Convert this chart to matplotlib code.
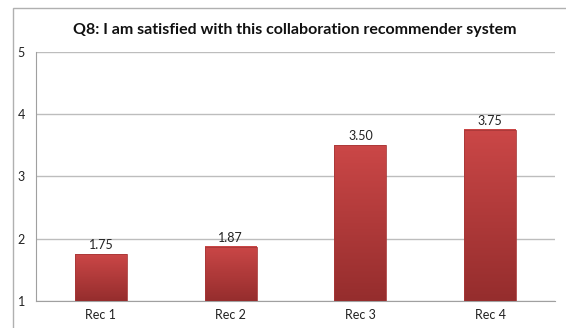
import numpy as np
import matplotlib.pyplot as plt
from matplotlib.patches import Rectangle
from matplotlib.colors import LinearSegmentedColormap

# Survey results, Q8
categories = ['Rec 1', 'Rec 2', 'Rec 3', 'Rec 4']
scores = [1.75, 1.87, 3.50, 3.75]
labels = ['1.75', '1.87', '3.50', '3.75']
title = 'Q8: I am satisfied with this collaboration recommender system'

plt.rcParams['font.family'] = ['Lato', 'DejaVu Sans']

fig = plt.figure(figsize=(5.66, 3.28), dpi=100)
# outer chart frame
fig.patches.append(Rectangle((12.5 / 566, -0.02), 1.0, 0.995, transform=fig.transFigure,
                             fill=False, edgecolor='#b0b0b0', linewidth=1.0))

ax = fig.add_axes([0.0636, 0.0823, 0.917, 0.7592])
x = np.arange(len(categories))
width = 0.4
baseline = 1

# vertical red gradient: lighter at top, darker at bottom
grad = np.linspace(0, 1, 256).reshape(-1, 1)
cmap = LinearSegmentedColormap.from_list('bar', ['#cb4747', '#952d2d'])

for xi, val, lab in zip(x, scores, labels):
    ax.imshow(grad, cmap=cmap, aspect='auto', origin='upper',
              extent=(xi - width / 2, xi + width / 2, baseline, val), zorder=3)
    ax.add_patch(Rectangle((xi - width / 2, baseline), width, val - baseline,
                           fill=False, edgecolor='#a83838', linewidth=0.6, zorder=4))
    ax.text(xi, val + 0.05, lab, ha='center', va='bottom', fontsize=9, color='#222222')

ax.set_xlim(-0.5, len(categories) - 0.5)
ax.set_ylim(1, 5)
ax.set_yticks([1, 2, 3, 4, 5])
ax.set_xticks(x)
ax.set_xticklabels(categories)
ax.tick_params(axis='both', length=0, labelsize=9, colors='#222222')
ax.tick_params(axis='y', pad=8)
ax.tick_params(axis='x', pad=6)
ax.grid(axis='y', color='#bdbdbd', linewidth=1.0, zorder=0)
ax.set_axisbelow(True)
for side in ['top', 'right']:
    ax.spines[side].set_visible(False)
ax.spines['left'].set_color('#a0a0a0')
ax.spines['bottom'].set_color('#a0a0a0')

fig.text(0.521, 0.91, title, ha='center', va='center', fontsize=11.5, fontweight='bold',
         color='#111111')

fig.savefig('out.png', dpi=100)
